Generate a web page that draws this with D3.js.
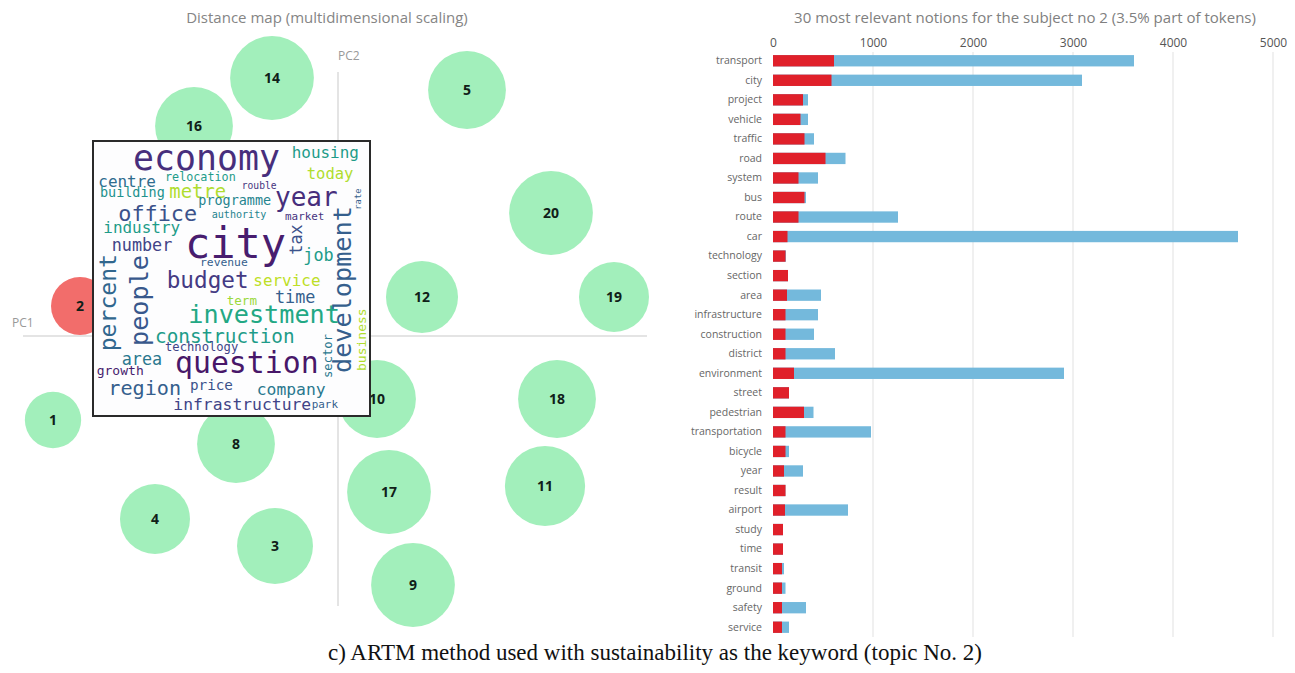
<!DOCTYPE html>
<html>
<head>
<meta charset="utf-8">
<script src="https://cdn.jsdelivr.net/npm/d3@7.9.0/dist/d3.min.js"></script>
<style>
  body { margin: 0; background: #fff; }
  svg { display: block; }
</style>
</head>
<body>
<svg id="chart" width="1295" height="673"></svg>
<script>
// ---- distance map (MDS): topic coordinates and sizes
const topicIds  = [1, 2, 3, 4, 5, 8, 9, 10, 11, 12, 14, 16, 17, 18, 19, 20];
const topicPC1  = [-0.95, -0.86, -0.21, -0.61, 0.43, -0.34, 0.25, 0.13, 0.69, 0.28, -0.22, -0.48, 0.17, 0.73, 0.92, 0.71];
const topicPC2  = [-0.28, 0.10, -0.70, -0.61, 0.82, -0.36, -0.83, -0.21, -0.50, 0.13, 0.86, 0.70, -0.52, -0.21, 0.13, 0.41];
const topicSize = [3.3, 3.5, 6.0, 5.1, 6.3, 6.3, 7.3, 6.3, 6.7, 5.4, 7.3, 6.3, 7.3, 6.3, 5.1, 7.3];
const selectedTopic = 2;

// ---- word cloud of the selected topic
const cloudWords = ['city', 'economy', 'question', 'year', 'people', 'development', 'investment', 'percent',
  'budget', 'office', 'region', 'construction', 'metre', 'time', 'number', 'area', 'job', 'tax',
  'infrastructure', 'company', 'housing', 'centre', 'industry', 'service', 'today', 'price', 'business',
  'building', 'programme', 'growth', 'term', 'technology', 'sector', 'relocation', 'revenue', 'market',
  'park', 'authority', 'rouble', 'rate'];
const cloudWeights = [100, 83, 71, 62, 60, 60, 60, 55, 54, 52, 48, 46, 45, 40, 40, 40, 40, 40,
  39, 39, 38, 38, 38, 38, 37, 34, 31, 32, 32, 31, 30, 29, 29, 28, 27, 26, 26, 24, 23, 21];

// ---- 30 most relevant notions for topic 2
const notions = ['transport', 'city', 'project', 'vehicle', 'traffic', 'road', 'system', 'bus', 'route', 'car',
  'technology', 'section', 'area', 'infrastructure', 'construction', 'district', 'environment', 'street',
  'pedestrian', 'transportation', 'bicycle', 'year', 'result', 'airport', 'study', 'time', 'transit',
  'ground', 'safety', 'service'];
const overallFreq = [3610, 3090, 350, 350, 410, 725, 450, 330, 1250, 4650, 130, 150, 480, 450, 410, 620,
  2910, 160, 405, 980, 160, 300, 125, 750, 100, 100, 110, 125, 330, 160];
const topicFreq = [610, 585, 300, 275, 315, 525, 255, 315, 255, 145, 125, 150, 140, 125, 125, 125,
  210, 160, 310, 125, 125, 110, 125, 120, 100, 100, 90, 90, 90, 90];
const freqTicks = [0, 1000, 2000, 3000, 4000, 5000];

// word placement inside the cloud box: [dx, dy, rotation, viridis t]
const cloudPlacement = {
  city: [92, 117, 0, 0.08], economy: [40, 28.7, 0, 0.13], question: [82, 232, 0, 0.06],
  year: [182, 65.3, 0, 0.13], people: [55, 205, -90, 0.27], development: [258, 232, -90, 0.3],
  investment: [95.3, 182, 0, 0.6], percent: [23, 210.3, -90, 0.33], budget: [73.7, 147, 0, 0.17],
  office: [25.3, 80.3, 0, 0.25], region: [15.3, 253.7, 0, 0.3], construction: [62, 202, 0, 0.55],
  metre: [76.3, 57, 0, 0.88], time: [182, 162, 0, 0.3], number: [18.7, 110.3, 0, 0.2],
  area: [28.7, 223.7, 0, 0.4], job: [210.3, 120.3, 0, 0.55], tax: [209, 113.7, -90, 0.25],
  infrastructure: [80.3, 268.7, 0, 0.2], company: [163.7, 253.7, 0, 0.4], housing: [198.7, 17, 0, 0.55],
  centre: [5.3, 46.3, 0, 0.35], industry: [10.3, 92, 0, 0.55], service: [160.3, 145.3, 0, 0.9],
  today: [213.7, 37.7, 0, 0.88], price: [97, 248.7, 0, 0.25], business: [273, 230, -90, 0.88],
  building: [7, 56.3, 0, 0.5], programme: [105.3, 63.7, 0, 0.45], growth: [3.7, 233.7, 0, 0.08],
  term: [133.7, 163.7, 0, 0.85], technology: [72, 210.3, 0, 0.2], sector: [239, 237, -90, 0.4],
  relocation: [72, 39.7, 0, 0.55], revenue: [107, 125.3, 0, 0.3], market: [192, 78.7, 0, 0.15],
  park: [218.7, 267, 0, 0.3], authority: [118.7, 77, 0, 0.45], rouble: [148.7, 47.7, 0, 0.15],
  rate: [267.7, 68.7, -90, 0.3]
};

const svg = d3.select('#chart');
const uiFont = "'Open Sans', 'Noto Sans', sans-serif";

// ================= left: distance map =================
const xS = d3.scaleLinear().domain([-1, 1]).range([38, 638]);
const yS = d3.scaleLinear().domain([-1, 1]).range([636, 36]);
const rS = d3.scaleSqrt().domain([0, 3.5]).range([0, 29]);

svg.append('text')
  .attr('x', 327).attr('y', 23)
  .attr('text-anchor', 'middle')
  .style('font-family', uiFont).style('font-size', '15px').attr('fill', '#858585')
  .text('Distance map (multidimensional scaling)');

// axes through the origin
svg.append('line')
  .attr('x1', xS(0)).attr('x2', xS(0)).attr('y1', yS(0.88)).attr('y2', yS(-0.9))
  .attr('stroke', '#e4e4e4').attr('stroke-width', 2);
svg.append('line')
  .attr('x1', xS(-1.05)).attr('x2', xS(1.03)).attr('y1', yS(0)).attr('y2', yS(0))
  .attr('stroke', '#e4e4e4').attr('stroke-width', 2);
svg.append('text').attr('x', xS(0)).attr('y', yS(0.92))
  .style('font-family', uiFont).style('font-size', '12px').attr('fill', '#999').text('PC2');
svg.append('text').attr('x', 12).attr('y', yS(0.03))
  .style('font-family', uiFont).style('font-size', '12px').attr('fill', '#999').text('PC1');

const topics = topicIds.map((id, i) => ({ id, pc1: topicPC1[i], pc2: topicPC2[i], size: topicSize[i] }));

const bubbles = svg.append('g').selectAll('g').data(topics).join('g')
  .attr('transform', d => `translate(${xS(d.pc1)},${yS(d.pc2)})`);
bubbles.append('circle')
  .attr('r', d => rS(d.size))
  .attr('fill', d => d.id === selectedTopic ? '#f26d6b' : '#a2efbb');
bubbles.append('text')
  .attr('text-anchor', 'middle').attr('dy', '0.35em')
  .style('font-family', uiFont).style('font-size', '14px').style('font-weight', 700)
  .attr('fill', '#102018')
  .text(d => d.id);

// word cloud box
const box = { x: 93, y: 141, w: 277, h: 275 };
const cloud = svg.append('g').attr('transform', `translate(${box.x},${box.y})`);
cloud.append('rect')
  .attr('width', box.w).attr('height', box.h)
  .attr('fill', '#fdfdfe').attr('stroke', '#2a2a2a').attr('stroke-width', 2);

const fontScale = d3.scaleLinear().domain([0, 100]).range([0, 42]);
const words = cloudWords.map((w, i) => ({ word: w, weight: cloudWeights[i], place: cloudPlacement[w] }));
cloud.selectAll('text.word').data(words).join('text')
  .attr('class', 'word')
  .attr('transform', d => `translate(${d.place[0]},${d.place[1]}) rotate(${d.place[2]})`)
  .style('font-family', "'DejaVu Sans Mono', monospace")
  .style('font-size', d => fontScale(d.weight) + 'px')
  .attr('fill', d => d3.interpolateViridis(d.place[3]))
  .text(d => d.word);

// ================= right: bar chart =================
const x = d3.scaleLinear().domain([0, 5000]).range([773, 1273]);
const y = d3.scaleBand().domain(notions).range([51, 637]).paddingInner(0.42).paddingOuter(0.21);

svg.append('text')
  .attr('x', 1025).attr('y', 23)
  .attr('text-anchor', 'middle')
  .style('font-family', uiFont).style('font-size', '15px').attr('fill', '#808080')
  .text('30 most relevant notions for the subject no 2 (3.5% part of tokens)');

svg.append('g').selectAll('line').data(freqTicks.slice(1)).join('line')
  .attr('x1', d => x(d)).attr('x2', d => x(d))
  .attr('y1', 52).attr('y2', 637)
  .attr('stroke', '#f0f0f0').attr('stroke-width', 2);

const xAxis = svg.append('g').attr('transform', 'translate(0,51)')
  .call(d3.axisTop(x).tickValues(freqTicks).tickFormat(d3.format('d')).tickSize(0).tickPadding(4));
xAxis.select('.domain').remove();
xAxis.selectAll('text').style('font-family', uiFont).style('font-size', '12px').attr('fill', '#555');

const rows = notions.map((n, i) => ({ notion: n, overall: overallFreq[i], topic: topicFreq[i] }));
svg.append('g').selectAll('rect').data(rows).join('rect')
  .attr('x', x(0)).attr('y', d => y(d.notion))
  .attr('width', d => x(d.overall) - x(0)).attr('height', y.bandwidth())
  .attr('fill', '#74b9dc');
svg.append('g').selectAll('rect').data(rows).join('rect')
  .attr('x', x(0)).attr('y', d => y(d.notion))
  .attr('width', d => x(d.topic) - x(0)).attr('height', y.bandwidth())
  .attr('fill', '#e0202a');

const yAxis = svg.append('g').attr('transform', `translate(${x(0)},0)`)
  .call(d3.axisLeft(y).tickSize(0).tickPadding(11));
yAxis.select('.domain').remove();
yAxis.selectAll('text').style('font-family', uiFont).style('font-size', '10.5px').attr('fill', '#666');

// caption
svg.append('text')
  .attr('x', 655).attr('y', 660)
  .attr('text-anchor', 'middle')
  .style('font-family', "'Liberation Serif', 'Times New Roman', serif").style('font-size', '23px')
  .attr('fill', '#111')
  .text('c) ARTM method used with sustainability as the keyword (topic No. 2)');
</script>
</body>
</html>
